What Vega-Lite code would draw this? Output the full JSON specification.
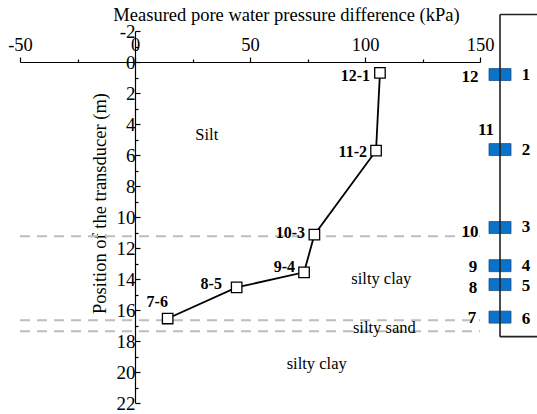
{
  "$schema": "https://vega.github.io/schema/vega-lite/v6.json",
  "width": 460,
  "height": 372,
  "autosize": {"type": "none"},
  "padding": {"left": 20, "top": 31, "right": 57, "bottom": 11},
  "background": "white",
  "config": {
    "view": {"stroke": null},
    "font": "Liberation Serif",
    "text": {"font": "Liberation Serif"},
    "axis": {
      "domainColor": "black",
      "domainWidth": 1.2,
      "tickColor": "black",
      "tickWidth": 1.2,
      "labelColor": "black",
      "titleColor": "black",
      "labelFont": "Liberation Serif",
      "titleFont": "Liberation Serif",
      "labelFontSize": 18.5,
      "titleFontSize": 18.5,
      "titleFontWeight": "normal",
      "grid": false,
      "labelFlush": false,
      "labelOverlap": false
    }
  },
  "resolve": {"axis": {"y": "independent"}},
  "datasets": {
    "points": [
      {"id": "12-1", "kPa": 106.5, "depth": 0.70},
      {"id": "11-2", "kPa": 104.8, "depth": 5.72},
      {"id": "10-3", "kPa": 78.0, "depth": 11.14},
      {"id": "9-4", "kPa": 73.5, "depth": 13.57},
      {"id": "8-5", "kPa": 44.2, "depth": 14.54},
      {"id": "7-6", "kPa": 14.2, "depth": 16.55}
    ],
    "pointLabels": [
      {"text": "12-1", "x": 102.2, "y": 0.88},
      {"text": "11-2", "x": 100.9, "y": 5.78},
      {"text": "10-3", "x": 73.9, "y": 11.0},
      {"text": "9-4", "x": 69.6, "y": 13.2},
      {"text": "8-5", "x": 37.8, "y": 14.35},
      {"text": "7-6", "x": 14.3, "y": 15.5}
    ],
    "layers": [
      {"depth": 11.24},
      {"depth": 16.66},
      {"depth": 17.37}
    ],
    "soil": [
      {"text": "Silt", "x": 31.2, "y": 4.68},
      {"text": "silty clay", "x": 107.1, "y": 13.97},
      {"text": "silty sand", "x": 108.4, "y": 17.14},
      {"text": "silty clay", "x": 79.0, "y": 19.5}
    ],
    "sensors": [
      {"depth": 0.81, "left": "12", "ly": 0.94, "lx": 145.7, "right": "1", "ry": 0.81},
      {"depth": 5.65, "left": "11", "ly": 4.36, "lx": 152.6, "right": "2", "ry": 5.65},
      {"depth": 10.68, "left": "10", "ly": 10.94, "lx": 145.7, "right": "3", "ry": 10.62},
      {"depth": 13.14, "left": "9", "ly": 13.2, "lx": 147.0, "right": "4", "ry": 13.14},
      {"depth": 14.36, "left": "8", "ly": 14.55, "lx": 147.0, "right": "5", "ry": 14.45},
      {"depth": 16.46, "left": "7", "ly": 16.49, "lx": 146.5, "right": "6", "ry": 16.6}
    ]
  },
  "layer": [
    {
      "data": {"name": "layers"},
      "mark": {"type": "rule", "color": "#bdbdbd", "strokeWidth": 2, "strokeDash": [10, 7]},
      "encoding": {
        "y": {"field": "depth", "type": "quantitative", "axis": null},
        "x": {"datum": -50, "type": "quantitative"},
        "x2": {"datum": 150}
      }
    },
    {
      "data": {"name": "points"},
      "mark": {"type": "line", "color": "black", "strokeWidth": 1.8},
      "encoding": {
        "x": {
          "field": "kPa",
          "type": "quantitative",
          "scale": {"domain": [-50, 150], "nice": false, "zero": false},
          "axis": {
            "orient": "top",
            "offset": -31,
            "values": [-50, -25, 0, 25, 50, 75, 100, 125, 150],
            "labelExpr": "datum.value % 50 === 0 ? '' + datum.value : ''",
            "labelOverlap": false,
            "labelFlush": false,
            "tickSize": {"condition": {"test": "datum.value % 50 === 0", "value": 5}, "value": 3},
            "labelPadding": 3,
            "title": "Measured pore water pressure difference (kPa)",
            "titleX": 266,
            "titleY": -48,
            "titleBaseline": "middle",
            "titleAlign": "center"
          }
        },
        "y": {
          "field": "depth",
          "type": "quantitative",
          "scale": {"domain": [-2, 22], "nice": false, "zero": false, "reverse": true},
          "axis": {
            "orient": "left",
            "offset": -115,
            "values": [-2, 0, 2, 4, 6, 8, 10, 12, 14, 16, 18, 20, 22],
            "labelExpr": "'' + datum.value",
            "labelOverlap": false,
            "labelFlush": false,
            "labelFontSize": 19,
            "tickSize": -5,
            "labelPadding": 5,
            "title": "Position of the transducer (m)",
            "titleX": -36,
            "titleY": 172,
            "titleAngle": -90,
            "titleBaseline": "middle",
            "titleAlign": "center"
          }
        },
        "order": {"field": "depth", "type": "quantitative"}
      }
    },
    {
      "data": {"name": "points"},
      "mark": {"type": "point", "shape": "square", "filled": true, "fill": "white", "stroke": "black", "strokeWidth": 1.3, "size": 110, "opacity": 1},
      "encoding": {
        "x": {"field": "kPa", "type": "quantitative"},
        "y": {
          "field": "depth",
          "type": "quantitative",
          "axis": {
            "orient": "left",
            "offset": -115,
            "values": [-1, 1, 3, 5, 7, 9, 11, 13, 15, 17, 19, 21],
            "labels": false,
            "domain": false,
            "tickSize": -3,
            "title": null
          }
        }
      }
    },
    {
      "data": {"name": "pointLabels"},
      "mark": {"type": "text", "fontWeight": "bold", "fontSize": 16, "align": "right", "baseline": "middle", "color": "black"},
      "encoding": {
        "x": {"field": "x", "type": "quantitative"},
        "y": {"field": "y", "type": "quantitative", "axis": null},
        "text": {"field": "text"}
      }
    },
    {
      "data": {"name": "soil"},
      "mark": {"type": "text", "fontSize": 16.5, "align": "center", "baseline": "middle", "color": "black"},
      "encoding": {
        "x": {"field": "x", "type": "quantitative"},
        "y": {"field": "y", "type": "quantitative", "axis": null},
        "text": {"field": "text"}
      }
    },
    {
      "data": {"name": "sensors"},
      "mark": {"type": "point", "shape": "M-1,-0.545L1,-0.545L1,0.545L-1,0.545Z", "filled": true, "fill": "#0a72c9", "stroke": "#1d4f8a", "strokeWidth": 0.8, "size": 484, "opacity": 1},
      "encoding": {
        "x": {"datum": 158.7, "type": "quantitative"},
        "y": {"field": "depth", "type": "quantitative", "axis": null}
      }
    },
    {
      "data": {"values": [{}]},
      "mark": {"type": "rule", "color": "#222222", "strokeWidth": 1.6},
      "encoding": {
        "x": {"datum": 158.7, "type": "quantitative"},
        "y": {"datum": -3.06, "type": "quantitative", "axis": null},
        "y2": {"datum": 17.72}
      }
    },
    {
      "data": {"values": [{"d": -3.06}, {"d": 17.72}]},
      "mark": {"type": "rule", "color": "#222222", "strokeWidth": 1.6},
      "encoding": {
        "x": {"datum": 158.7, "type": "quantitative"},
        "x2": {"datum": 178},
        "y": {"field": "d", "type": "quantitative", "axis": null}
      }
    },
    {
      "data": {"name": "sensors"},
      "mark": {"type": "text", "fontWeight": "bold", "fontSize": 17, "align": "center", "baseline": "middle", "color": "black"},
      "encoding": {
        "x": {"field": "lx", "type": "quantitative"},
        "y": {"field": "ly", "type": "quantitative", "axis": null},
        "text": {"field": "left"}
      }
    },
    {
      "data": {"name": "sensors"},
      "mark": {"type": "text", "fontWeight": "bold", "fontSize": 17, "align": "center", "baseline": "middle", "color": "black"},
      "encoding": {
        "x": {"datum": 170, "type": "quantitative"},
        "y": {"field": "ry", "type": "quantitative", "axis": null},
        "text": {"field": "right"}
      }
    }
  ]
}
